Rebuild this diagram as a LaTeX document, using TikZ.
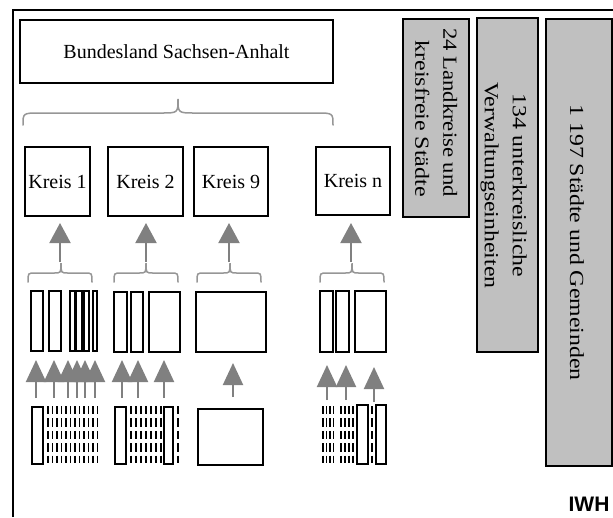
\documentclass[tikz,border=0pt]{standalone}
\usepackage{fontspec}
\usepackage{graphicx}
\setmainfont{Liberation Serif}
\newfontfamily\iwhfont{Liberation Sans}
\usetikzlibrary{arrows.meta}
\definecolor{arrgray}{RGB}{128,128,128}
\definecolor{brgray}{RGB}{150,150,150}
\definecolor{barfill}{RGB}{192,192,192}
\newcommand\grbrace[7]{%
  \draw[bracestyle] (#1,#4) .. controls (#1,#5) .. (#1+#7,#5) -- (#3-#7,#5)
    .. controls (#3,#5) .. (#3,#6) .. controls (#3,#5) .. (#3+#7,#5)
    -- (#2-#7,#5) .. controls (#2,#5) .. (#2,#4);}
\newcommand\rtext[2][1.19]{\scalebox{#1}[1]{#2}}
\begin{document}
\begin{tikzpicture}[x=1pt,y=-1pt,
  box/.style={draw=black, line width=1.5pt, inner sep=0pt, fill=white,
    font=\fontsize{20}{24}\selectfont},
  bar/.style={draw=black, line width=1.3pt, fill=barfill, inner sep=0pt},
  bartext/.style={rotate=-90, inner sep=0pt, font=\fontsize{20}{28}\selectfont},
  unit/.style={draw=black, line width=1.5pt},
  dashcol/.style={draw=black, line width=1.8pt, dash pattern=on 8.3pt off 4.1pt},
  uparrow/.style={draw=arrgray, line width=2pt, -{Triangle[length=20pt,width=21pt]}},
  lowarrow/.style={draw=arrgray, line width=2pt, -{Triangle[length=22pt,width=20pt]}},
  bracestyle/.style={draw=brgray, line width=1.5pt, line cap=round}]
\useasboundingbox (0,0) rectangle (613,517);
% frame
\draw[line width=2pt] (12.5,517) -- (12.5,10) -- (613,10);
% top box
\node[box, minimum width=313pt, minimum height=63pt] (land) at (176.5,51.5) {Bundesland Sachsen-Anhalt};
\grbrace{23}{333}{178}{125}{113}{99}{17}
% Kreis boxes
\node[box, minimum width=65pt, minimum height=69pt] (k1) at (57.5,181.5) {Kreis 1};
\node[box, minimum width=75pt, minimum height=69pt] (k2) at (145.5,181.5) {Kreis 2};
\node[box, minimum width=74pt, minimum height=69pt] (k9) at (231,181.5) {Kreis 9};
\node[box, minimum width=74pt, minimum height=68pt] (kn) at (353,181) {Kreis n};
% upper arrows
\foreach \n/\x in {1/60,2/146,3/229,4/351} {
  \coordinate (ut\n) at (\x,223);
  \coordinate (ub\n) at (\x,262);
  \draw[uparrow] (ub\n) -- (ut\n);
}
% small braces
\grbrace{28}{92}{61}{282}{273}{263}{7}
\grbrace{114}{178}{146}{282}{273}{263}{7}
\grbrace{197}{261}{230}{282}{273}{263}{7}
\grbrace{320}{384}{352}{282}{273}{263}{7}
% middle units
\foreach \a/\b in {31/43,49/61,70/75,76/82,84/89,93/97}
  \draw[unit] (\a,291) rectangle (\b,351);
\foreach \a/\b in {114/127,131/143,149/180}
  \draw[unit] (\a,292) rectangle (\b,352);
\draw[unit] (196,292) rectangle (266,352);
\foreach \a/\b in {320/333,336/349,355/386}
  \draw[unit] (\a,291) rectangle (\b,352);
% lower arrows
\foreach \n/\x/\t/\e in {1/36/360/398,2/54/360/398,3/68/360/398,4/77/360/398,5/85/360/398,6/95/360/398,
  7/122/360/398,8/138/360/398,9/164/360/398,10/233/363/397,11/327/365/400,12/346/365/400,13/374/367/402} {
  \coordinate (lt\n) at (\x,\t);
  \coordinate (lb\n) at (\x,\e);
  \draw[lowarrow] (lb\n) -- (lt\n);
}
% bottom row
\draw[unit] (32,407) rectangle (43,464);
\foreach \x in {48,52.5,...,98} \draw[dashcol] (\x,406) -- (\x,463);
\draw[unit] (115,407) rectangle (126,464);
\foreach \x in {131,136,...,161} \draw[dashcol] (\x,406) -- (\x,463);
\draw[unit] (164,407) rectangle (173,464);
\draw[dashcol] (178,406) -- (178,463);
\draw[unit] (198,409) rectangle (263,465);
\foreach \x in {323,326.5,330,333.5,341,345,349,353} \draw[dashcol] (\x,406) -- (\x,463);
\draw[unit] (357,405) rectangle (368,464);
\draw[dashcol] (372,406) -- (372,463);
\draw[unit] (376,405) rectangle (386,464);
% grey bars
\node[bar, minimum width=66pt, minimum height=198pt] (bar1) at (436,118) {};
\node[bar, minimum width=61pt, minimum height=334pt] (bar2) at (507.5,185) {};
\node[bar, minimum width=66pt, minimum height=447pt] (bar3) at (579,242.5) {};
\node[bartext] (t1) at (435,112.5) {\begin{tabular}{@{}r@{}}\rtext[1.135]{24 Landkreise und}\\\rtext[1.2]{kreisfreie Städte}\end{tabular}};
\node[bartext] (t2) at (504.5,185.5) {\rtext{\begin{tabular}{@{}c@{}}134 unterkreisliche\\Verwaltungseinheiten\end{tabular}}};
\node[bartext] (t3) at (575.6,242.5) {\rtext{\begin{tabular}{@{}c@{}}1 197 Städte und Gemeinden\end{tabular}}};
% logo
\node[font=\iwhfont\bfseries\fontsize{21}{21}\selectfont, inner sep=0pt] (iwh) at (589,504) {IWH};
\end{tikzpicture}
\end{document}
